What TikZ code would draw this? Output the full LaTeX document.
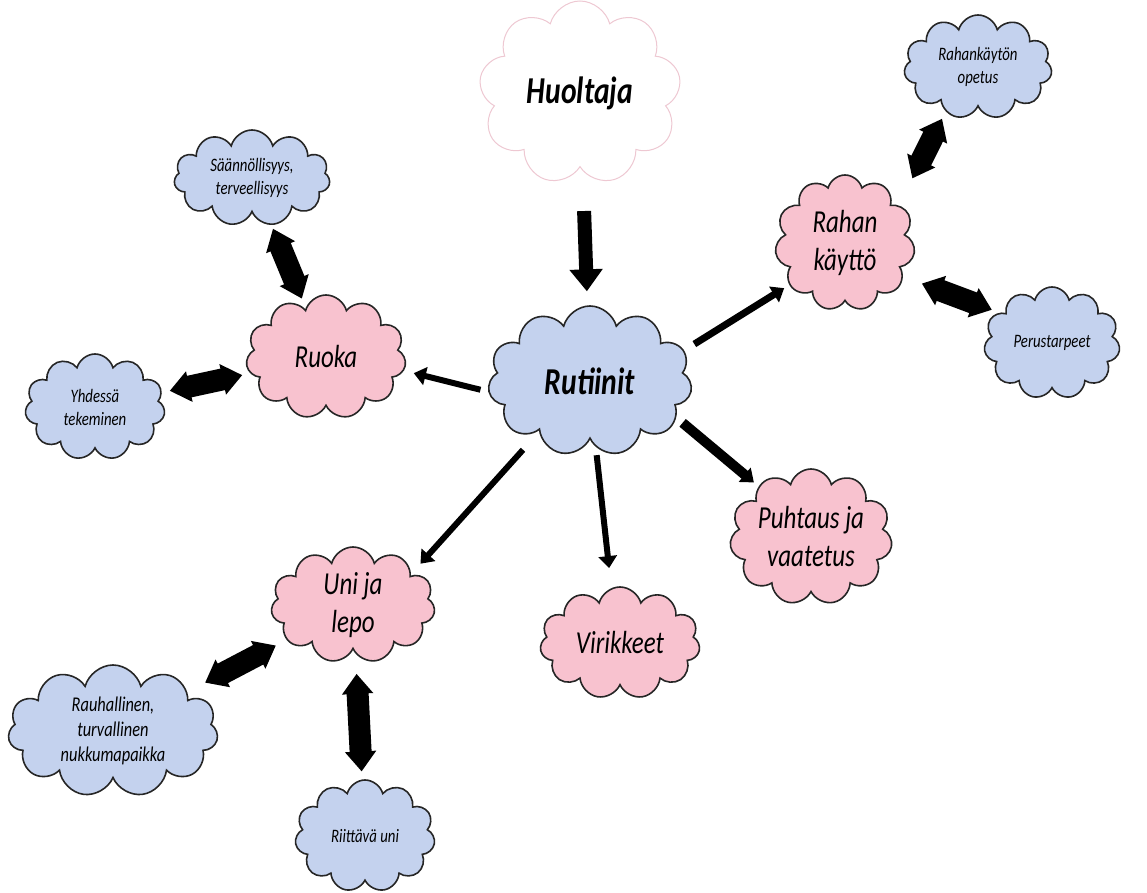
\documentclass[tikz,border=0pt]{standalone}
\usepackage{fontspec}
\setmainfont{Carlito}[FakeStretch=0.78]
\usetikzlibrary{shapes.symbols,arrows.meta}
\definecolor{cloudblue}{RGB}{196,210,238}
\definecolor{cloudpink}{RGB}{248,194,207}
\definecolor{edgepink}{RGB}{238,200,210}

\begin{document}
\begin{tikzpicture}[x=0.5pt, y=-0.5pt,
    bubble/.style={cloud, cloud puffs=11, cloud ignores aspect, draw=black!85, line width=0.8pt, inner sep=0pt, align=center},
    bluebubble/.style={bubble, fill=cloudblue, font=\itshape\fontsize{9.5}{11.5}\selectfont},
    pinkbubble/.style={bubble, fill=cloudpink, font=\itshape\fontsize{16}{19}\selectfont},
    link/.style={-{Triangle[width=9pt,length=6pt]}, line width=3pt},
    pair/.style={{Triangle[width=15pt,length=10pt]}-{Triangle[width=15pt,length=10pt]}, line width=11pt}]
    \useasboundingbox (0,0) rectangle (1147,893) ;

    % centre
    \node[bubble, cloud puffs=9, fill=white, draw=edgepink, line width=0.5pt, minimum width=101pt, minimum height=92pt, font=\bfseries\itshape\fontsize{19}{23}\selectfont] (huoltaja) at (580,93) {Huoltaja} ;
    \node[bubble, fill=cloudblue, minimum width=102pt, minimum height=75pt, font=\bfseries\itshape\fontsize{19}{23}\selectfont] (rutiinit) at (590,381) {Rutiinit} ;

    % pink topics
    \node[pinkbubble, minimum width=80pt, minimum height=62pt] (ruoka) at (326,357) {Ruoka} ;
    \node[pinkbubble, minimum width=70pt, minimum height=68pt] (rahan) at (845,243) {Rahan\\käyttö} ;
    \node[pinkbubble, minimum width=74pt, minimum height=68pt] (puhtaus) at (811,537) {Puhtaus ja\\vaatetus} ;
    \node[pinkbubble, minimum width=80pt, minimum height=56pt] (virikkeet) at (620,643) {Virikkeet} ;
    \node[pinkbubble, minimum width=82pt, minimum height=58pt] (uni) at (353,605) {Uni ja\\lepo} ;

    % blue details
    \node[bluebubble, minimum width=78pt, minimum height=48pt] (saannollisyys) at (252,178) {Säännöllisyys,\\terveellisyys} ;
    \node[bluebubble, minimum width=70pt, minimum height=53pt] (yhdessa) at (95,407) {Yhdessä\\tekeminen} ;
    \node[bluebubble, minimum width=74pt, minimum height=52pt] (opetus) at (978,67) {Rahankäytön\\opetus} ;
    \node[bluebubble, minimum width=68pt, minimum height=56pt] (perustarpeet) at (1052,343) {Perustarpeet} ;
    \node[bluebubble, minimum width=105pt, minimum height=66pt, font=\itshape\fontsize{10.5}{12.5}\selectfont] (rauhallinen) at (113,731) {Rauhallinen,\\turvallinen\\nukkumapaikka} ;
    \node[bluebubble, minimum width=70pt, minimum height=56pt] (riittava) at (365,836) {Riittävä uni} ;

    \draw[-{Triangle[width=16pt,length=11pt]}, line width=7pt, shorten <=20pt, shorten >=7pt] (huoltaja) -- (rutiinit) ;

    \draw[link, shorten <=4pt, shorten >=5pt] (rutiinit.186) -- (ruoka.-10) ;
    \draw[link, line width=3.5pt, shorten <=6pt, shorten >=3pt] (rutiinit.18) -- (rahan.217) ;
    \draw[link, line width=5pt, shorten <=4pt, shorten >=3pt] (rutiinit.-23) -- (puhtaus.136) ;
    \draw[link, shorten <=4pt, shorten >=10pt] (rutiinit.-85) -- (virikkeet.99) ;
    \draw[link, shorten <=12pt, shorten >=7pt] (rutiinit.225) -- (uni.28) ;

    \draw[pair, shorten <=2pt, shorten >=5pt] (saannollisyys) -- (ruoka) ;
    \draw[pair, shorten <=4pt, shorten >=4pt] (ruoka) -- (yhdessa) ;
    \draw[pair, shorten <=15pt, shorten >=4pt] (rahan.35) -- (opetus.234) ;
    \draw[pair, shorten <=10pt, shorten >=4pt] (rahan.-30) -- (perustarpeet.150) ;
    \draw[pair, shorten <=6pt, shorten >=10pt] (uni) -- (rauhallinen) ;
    \draw[pair, shorten <=10pt, shorten >=4pt] (uni) -- (riittava) ;
\end{tikzpicture}
\end{document}
